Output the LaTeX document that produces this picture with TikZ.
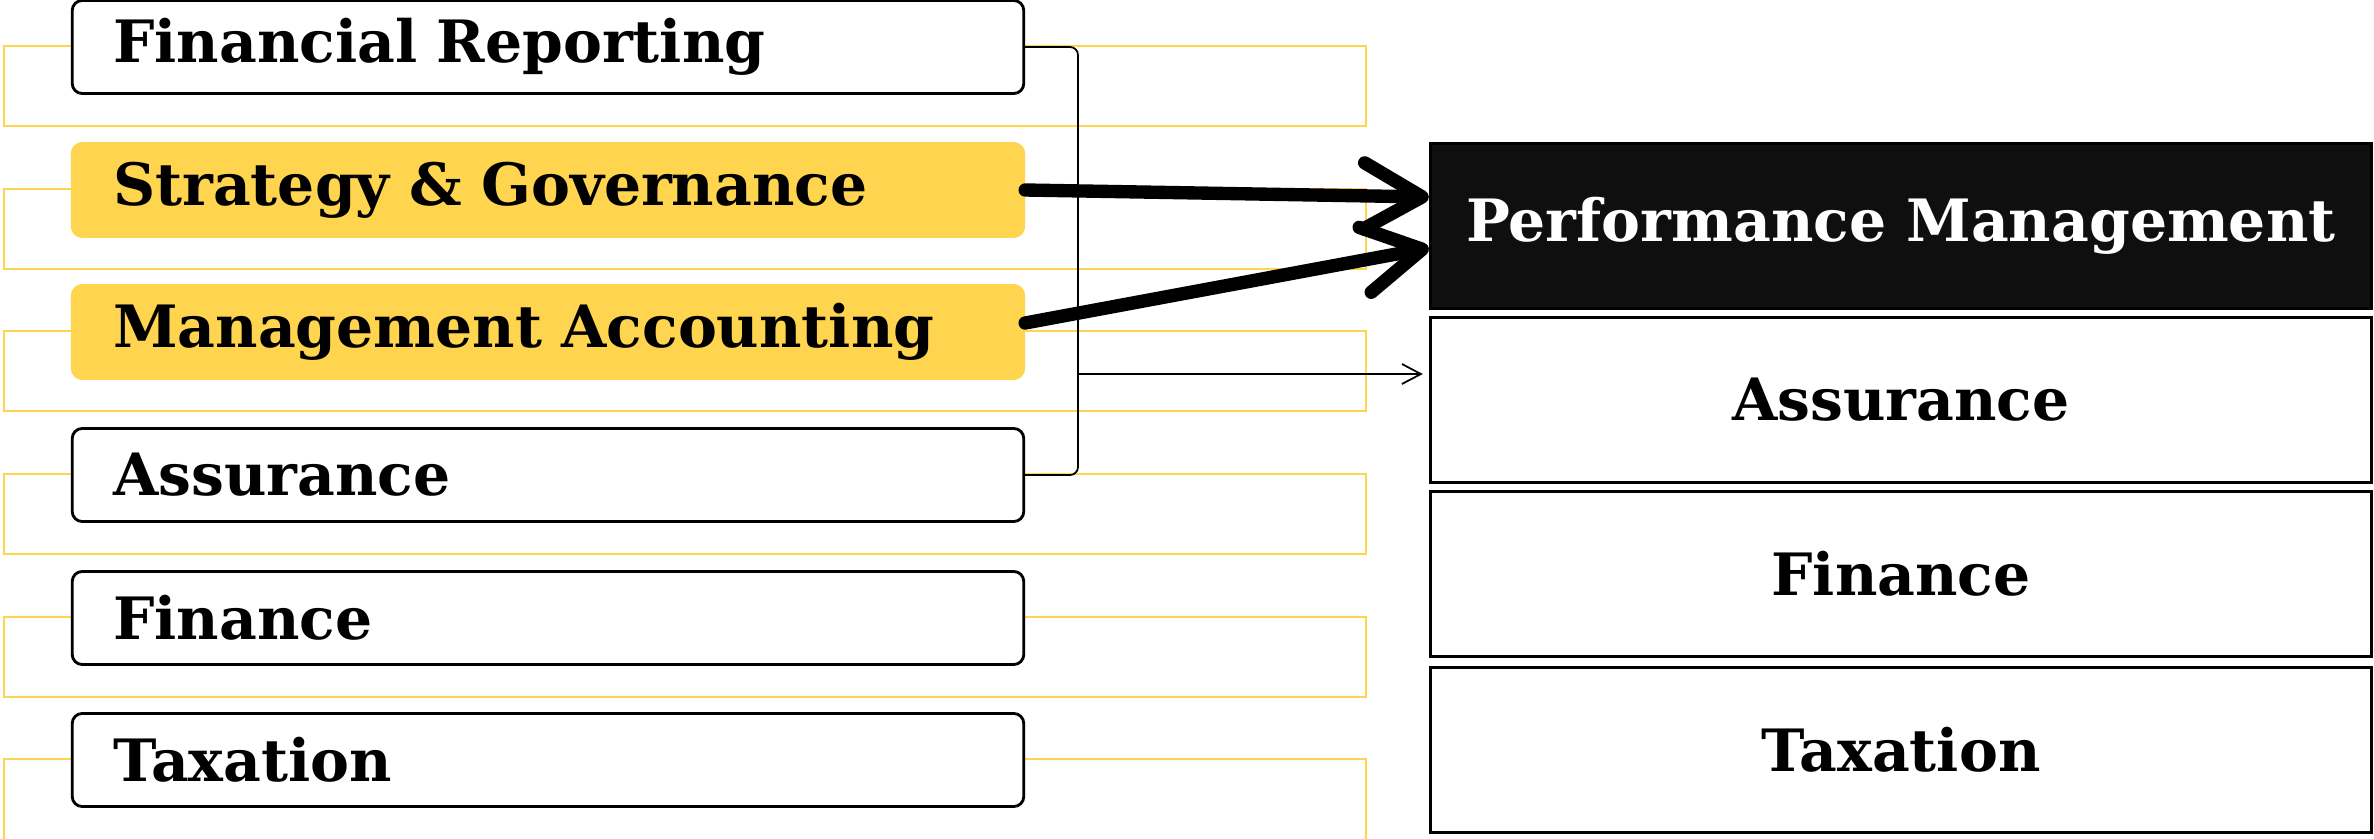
\documentclass[tikz,border=0pt]{standalone}
\usepackage{fontspec}
\setmainfont{DejaVu Serif}
\usetikzlibrary{arrows.meta,calc}
\definecolor{pmgold}{HTML}{FFD54F}
\definecolor{pmblack}{HTML}{0F0F0F}

\begin{document}
\begin{tikzpicture}[x=0.01cm, y=-0.01cm,
        every node/.style={font=\fontsize{16.6}{20}\selectfont\bfseries},
        paper/.style={draw, fill=white, line width=0.8pt, rounded corners=0.1cm, minimum height=0.93cm,
            text width=8.69cm, inner xsep=0.41cm, align=left},
        picked/.style={paper, draw=pmgold, fill=pmgold},
        level/.style={draw, line width=0.8pt, minimum width=9.41cm, minimum height=1.65cm},
        frame/.style={draw=pmgold, line width=0.8pt},
        link/.style={line width=3.8pt, line cap=round, -{Straight Barb[length=0.58cm, width=0.66cm, round]}},
        thinlink/.style={line width=0.5pt, -{Straight Barb[length=0.19cm, width=0.2cm]}}]
            \clip (0,0) rectangle (2374,839);

            \draw[frame] (4,46) rectangle (1366,126);
            \draw[frame] (4,189) rectangle (1366,269);
            \draw[frame] (4,331) rectangle (1366,411);
            \draw[frame] (4,474) rectangle (1366,554);
            \draw[frame] (4,617) rectangle (1366,697);
            \draw[frame] (4,759) rectangle (1366,850);

            \node[paper] (fr) at (548,47) {Financial Reporting};
            \node[picked] (sg) at (548,190) {Strategy \& Governance};
            \node[picked] (ma) at (548,332) {Management Accounting};
            \node[paper] (as) at (548,475) {Assurance};
            \node[paper] (fi) at (548,618) {Finance};
            \node[paper] (tx) at (548,760) {Taxation};

            \node[level, fill=pmblack, text=white] (pm) at (1901,226) {Performance Management};
            \node[level] (ra) at (1901,400) {Assurance};
            \node[level] (rf) at (1901,574) {Finance};
            \node[level] (rt) at (1901,750) {Taxation};

            \coordinate (brk) at (1078,374);
            \draw[line width=0.5pt, rounded corners=0.08cm] (fr.east) -| (brk) |- (as.east);
            \draw[thinlink, shorten >=0.06cm] (brk) -- (brk -| ra.west);

            \draw[link] (sg.east) -- ($(pm.west)+(0,-29)$);
            \draw[link] ($(ma.east)+(0,-9)$) -- ($(pm.west)+(0,22)$);

        \end{tikzpicture}
\end{document}
